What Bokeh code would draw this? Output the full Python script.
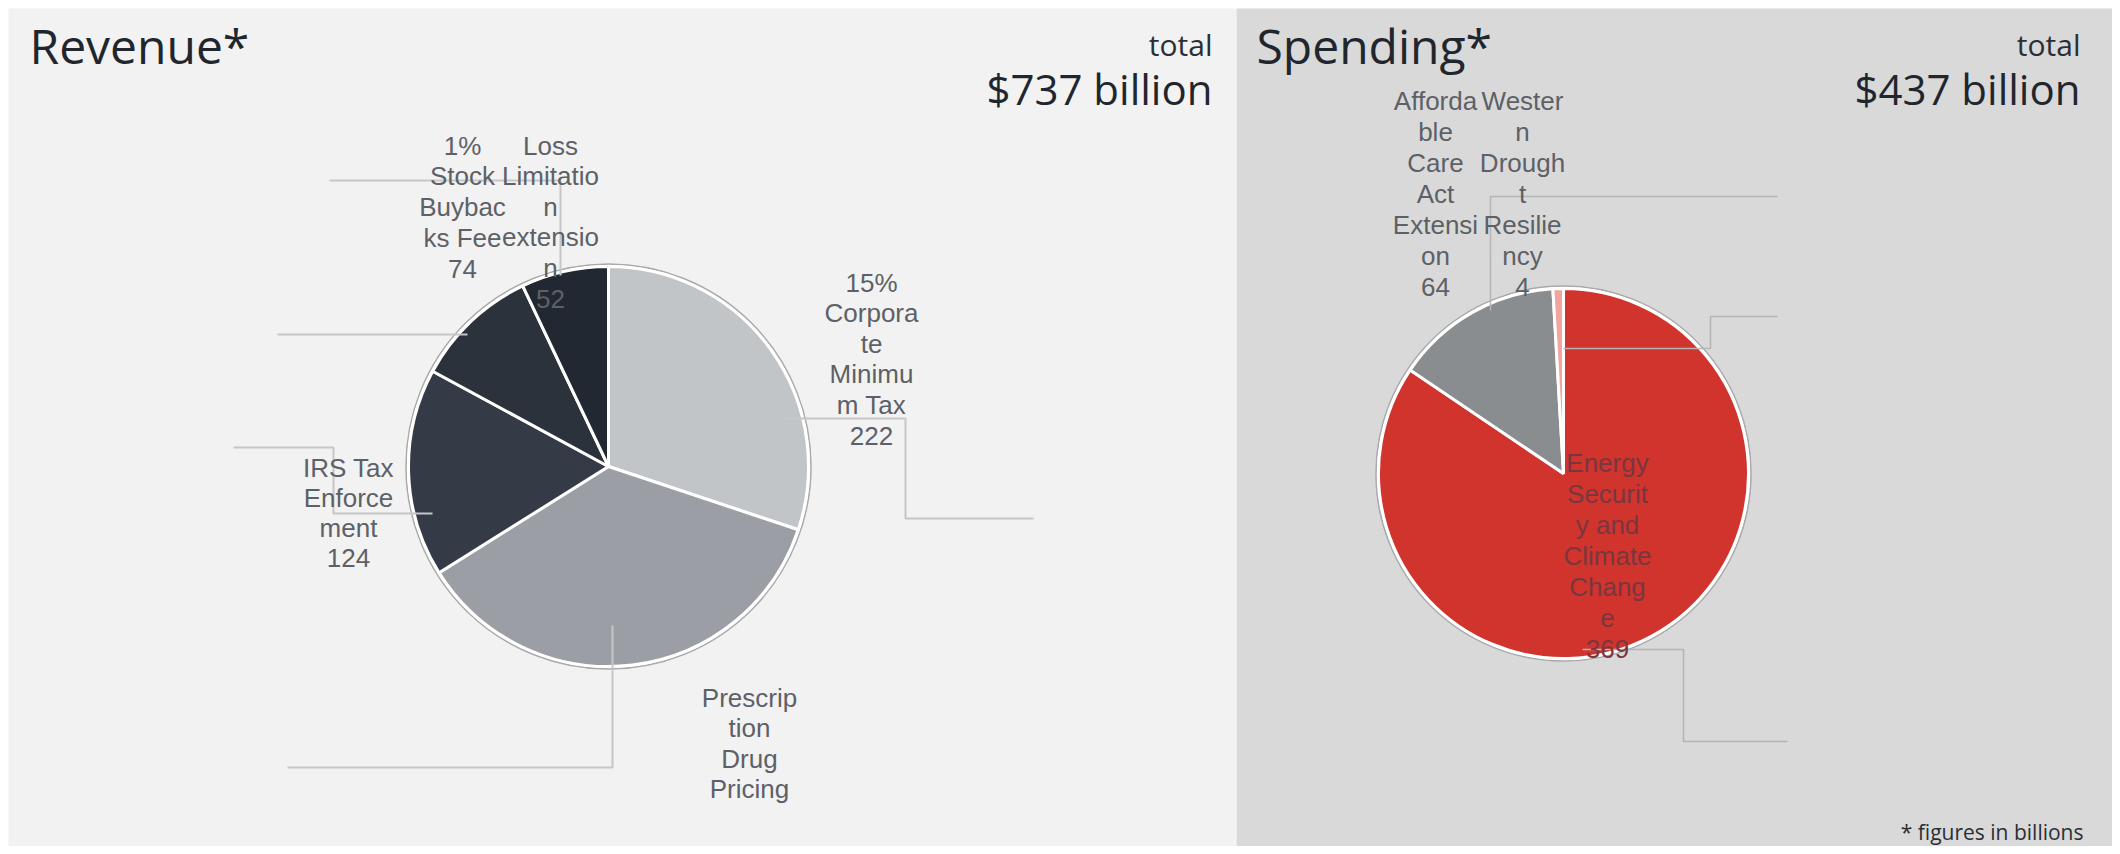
import math
from bokeh.plotting import figure
from bokeh.layouts import row
from bokeh.models import Range1d, ColumnDataSource
from bokeh.core.properties import value
from bokeh.embed import file_html
from bokeh.resources import INLINE

# ---------------- data ----------------
rev_categories = ["15% Corporate Minimum Tax", "Prescription Drug Pricing", "IRS Tax Enforcement",
                  "1% Stock Buybacks Fee", "Loss Limitation extension"]
rev_values = [222, 265, 124, 74, 52]
rev_labels = ["15%\nCorpora\nte\nMinimu\nm Tax\n222", "Prescrip\ntion\nDrug\nPricing",
              "IRS Tax\nEnforce\nment\n124", "1%\nStock\nBuybac\nks Fee\n74",
              "Loss\nLimitatio\nn\nextensio\nn\n52"]
rev_colors = ["#c2c5c8", "#9b9ea5", "#343b46", "#2b323c", "#222831"]

spd_categories = ["Energy Security and Climate Change", "Affordable Care Act Extension",
                  "Western Drought Resiliency"]
spd_values = [369, 64, 4]
spd_labels = ["Energy\nSecurit\ny and\nClimate\nChang\ne\n369", "Afforda\nble\nCare\nAct\nExtensi\non\n64",
              "Wester\nn\nDrough\nt\nResilie\nncy\n4"]
spd_colors = ["#d0342c", "#8a8d90", "#f3a49e"]

rev_title, rev_total = "Revenue*", "$737 billion"
spd_title, spd_total = "Spending*", "$437 billion"
footnote = "* figures in billions"

# ---------------- layout ----------------
M = 8
H = 838
LW, RW = 1228, 876
LABEL_FONT = value("Liberation Sans")
TITLE_FONT = value("Open Sans")


def make_fig(w, bg):
    p = figure(width=w, height=H, x_range=Range1d(0, w), y_range=Range1d(0, H),
               output_backend="svg", toolbar_location=None, min_border=0,
               background_fill_color=bg, border_fill_color=bg, outline_line_color=None)
    p.axis.visible = False
    p.grid.visible = False
    return p


def draw_panel(p, x0, cats, vals, labels, colors, center, radius, label_pos, label_colors,
               leaders, leader_color, leader_width, title, total):
    T = lambda x, y: (x - x0, H - (y - M))
    cx, cy = T(*center)
    s = float(sum(vals))
    cum = 0.0
    starts, ends = [], []
    for v in vals:
        a0 = cum / s
        cum += v
        a1 = cum / s
        starts.append(math.pi / 2 - 2 * math.pi * a1)
        ends.append(math.pi / 2 - 2 * math.pi * a0)
    src = ColumnDataSource(dict(x=[cx] * len(vals), y=[cy] * len(vals), start=starts, end=ends,
                                color=colors, cat=cats, val=vals))
    p.circle(x=cx, y=cy, radius=radius + 2.5, radius_units="screen", fill_color="white",
             line_color="#a9a9a9", line_width=1.5)
    p.wedge(x="x", y="y", radius=radius, radius_units="screen", start_angle="start", end_angle="end",
            direction="anticlock", fill_color="color", line_color="white", line_width=3, source=src)

    # leader lines (offsets relative to pie centre, page pixels)
    xs, ys = [], []
    for pts in leaders:
        xs.append([T(center[0] + dx, center[1] + dy)[0] for dx, dy in pts])
        ys.append([T(center[0] + dx, center[1] + dy)[1] for dx, dy in pts])
    p.multi_line(xs=xs, ys=ys, line_color=leader_color, line_width=leader_width)

    # labels (one text per line)
    tx, ty, tt, tc = [], [], [], []
    for lab, (lx, ly, lh), col in zip(labels, label_pos, label_colors):
        for i, line in enumerate(lab.split("\n")):
            X, Y = T(lx, ly + i * lh)
            tx.append(X); ty.append(Y); tt.append(line); tc.append(col)
    p.text(x=tx, y=ty, text=tt, text_color=tc, text_font=LABEL_FONT, text_font_size="26px",
           text_align="center", text_baseline="middle")

    # titles
    tx0, ty0 = T(title[1], title[2])
    p.text(x=[tx0], y=[ty0], text=[title[0]], text_font=TITLE_FONT, text_font_size="48px",
           text_color="#1f262e", text_align="left", text_baseline="middle")
    rx, ry1 = T(total[1], 44)
    _, ry2 = T(total[1], 88)
    p.text(x=[rx], y=[ry1], text=["total"], text_font=TITLE_FONT, text_font_size="30px",
           text_color="#2a2f36", text_align="right", text_baseline="middle")
    p.text(x=[rx], y=[ry2], text=[total[0]], text_font=TITLE_FONT, text_font_size="42px",
           text_color="#1f262e", text_align="right", text_baseline="middle")
    return T


left = make_fig(LW, "#f2f2f2")
draw_panel(left, M, rev_categories, rev_values, rev_labels, rev_colors,
           center=(608, 466), radius=200,
           label_pos=[(871, 282, 30.6), (749, 697, 30.5), (348, 467, 30.0), (462, 145, 30.8), (550, 145, 30.6)],
           label_colors=["#5d6167", "#5d6167", "#5d6167", "#5d6167", "#5d6167"],
           leaders=[[(170, -48), (297, -48), (297, 52), (425, 52)],
                    [(4, 159), (4, 301), (-321, 301)],
                    [(-176, 47), (-275, 47), (-275, -19), (-375, -19)],
                    [(-141, -132), (-331, -132)],
                    [(-48, -191), (-48, -286), (-279, -286)]],
           leader_color="#c6c6c6", leader_width=2,
           title=(rev_title, 29, 45), total=(rev_total, 1212))

right = make_fig(RW, "#d9d9d9")
T = draw_panel(right, M + LW, spd_categories, spd_values, spd_labels, spd_colors,
               center=(1563, 473), radius=185,
               label_pos=[(1607, 462, 31.0), (1435, 100, 31.0), (1522, 100, 31.0)],
               label_colors=["#7a3640", "#5d6167", "#5d6167"],
               leaders=[[(19, 176), (120, 176), (120, 268), (224, 268)],
                        [(-73, -163), (-73, -277), (214, -277)],
                        [(0, -125), (147, -125), (147, -157), (214, -157)]],
               leader_color="#b5b5b5", leader_width=1.5,
               title=(spd_title, 1256, 45), total=(spd_total, 2080))
fx, fy = T(2083, 831)
right.text(x=[fx], y=[fy], text=[footnote], text_font=TITLE_FONT, text_font_size="21px",
           text_color="#2a2f36", text_align="right", text_baseline="middle")

layout = row(left, right, spacing=0, margin=(8, 8, 8, 8))
open("out.html", "w").write(file_html(layout, INLINE))
